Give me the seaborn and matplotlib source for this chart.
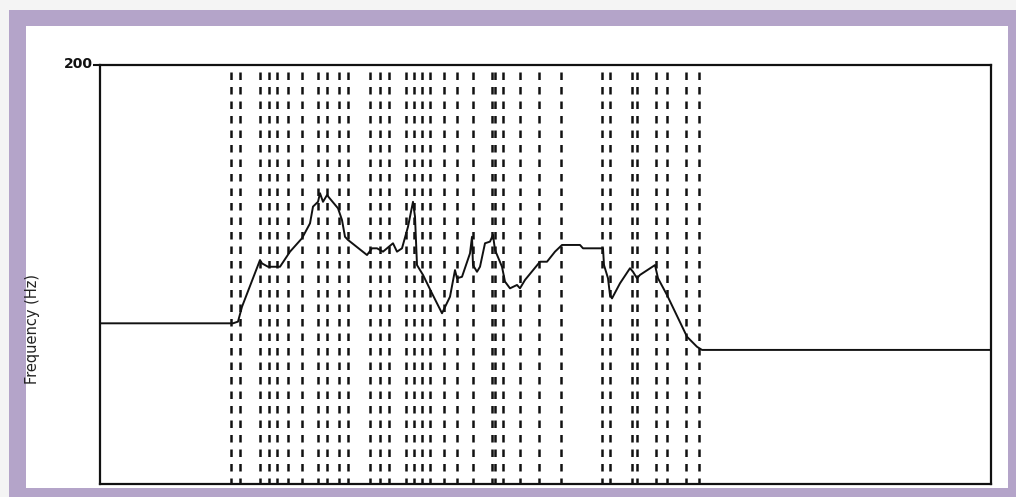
import matplotlib
matplotlib.use("Agg")
import matplotlib.pyplot as plt
import matplotlib.transforms as mtransforms
from matplotlib.patches import Rectangle
import seaborn as sns
import pandas as pd

# Pitch contour (time in s, frequency in Hz)
time_s = [0.00, 1.33, 1.38, 1.42, 1.60, 1.62, 1.68, 1.80, 1.90, 2.02, 2.10, 2.13,
          2.18, 2.20, 2.23, 2.27, 2.38, 2.42, 2.45, 2.48, 2.67, 2.72, 2.77, 2.83,
          2.93, 2.97, 3.02, 3.08, 3.13, 3.15, 3.17, 3.23, 3.32, 3.42, 3.50, 3.55,
          3.57, 3.62, 3.70, 3.72, 3.73, 3.77, 3.80, 3.85, 3.90, 3.93, 3.95, 4.02,
          4.05, 4.10, 4.17, 4.20, 4.25, 4.40, 4.47, 4.55, 4.62, 4.80, 4.83, 5.03,
          5.04, 5.08, 5.10, 5.12, 5.20, 5.30, 5.33, 5.37, 5.40, 5.55, 5.58, 5.67,
          5.87, 5.97, 6.02, 8.91]
freq_hz = [76.7, 76.7, 77.5, 84.6, 106.9, 105.3, 103.7, 103.7, 110.9, 117.3, 124.4, 132.4,
           134.7, 138.8, 134.7, 137.9, 131.6, 126.0, 118.0, 116.5, 109.3, 112.5, 112.5, 110.9,
           114.9, 110.9, 112.5, 122.8, 134.7, 127.6, 104.5, 99.8, 91.0, 81.5, 89.4, 102.1,
           98.2, 98.9, 110.1, 118.0, 104.5, 101.3, 103.7, 114.9, 115.7, 118.9, 111.7, 103.7,
           96.6, 93.4, 95.0, 93.4, 97.4, 106.1, 106.1, 110.9, 114.1, 114.1, 112.5, 112.5,
           104.5, 98.2, 90.2, 88.6, 95.8, 103.0, 101.3, 98.2, 99.8, 104.5, 98.2, 90.2,
           70.3, 65.5, 64.0, 64.0]

# Segment boundaries (s)
boundaries_s = [1.31, 1.40, 1.60, 1.69, 1.77, 1.88, 2.02, 2.18, 2.27, 2.39, 2.48, 2.70,
                2.80, 2.89, 3.06, 3.14, 3.22, 3.30, 3.44, 3.57, 3.73, 3.92, 3.95, 4.03,
                4.20, 4.39, 4.61, 5.02, 5.10, 5.32, 5.37, 5.56, 5.67, 5.86, 5.99]

y_ticks = [200]

sns.set_theme(style="white")
plt.rcParams['font.family'] = ['DejaVu Sans']

W, H = 1016, 497
fig = plt.figure(figsize=(W / 100, H / 100), dpi=100)
fig.patch.set_facecolor("#f4f4f4")

# purple frame and white interior (figure pixel coords, origin bottom-left)
r1 = Rectangle((9, 0), W - 9, H - 10, transform=None,
               facecolor="#b4a4c9", edgecolor="none", zorder=-10)
r2 = Rectangle((26, 9), 1008 - 26, 471 - 9, transform=None,
               facecolor="white", edgecolor="none", zorder=-9)
fig.add_artist(r1)
fig.add_artist(r2)

ax = fig.add_axes([100 / W, (H - 484) / H, 891 / W, 419 / H])
ax.set_zorder(5)
ax.set_facecolor("white")

df = pd.DataFrame({"t": time_s, "f": freq_hz})

ax.vlines(boundaries_s, ymin=200, ymax=0, colors="#111111", linewidth=1.8,
          linestyles=[(3.0, (3.0, 2.8))], zorder=1)

sns.lineplot(data=df, x="t", y="f", ax=ax, color="#111111", linewidth=1.4,
             estimator=None, sort=False, zorder=3)

ax.set_xlim(0, 8.91)
ax.set_ylim(0, 200)
ax.set_xticks([])
ax.set_yticks(y_ticks)
ax.set_yticklabels([str(v) for v in y_ticks], fontsize=10, fontweight="bold", color="#111111")
ax.tick_params(axis="y", left=True, length=5, width=1.5, color="#111111", pad=0)
shift = mtransforms.ScaledTranslation(0, 3 / 100, fig.dpi_scale_trans)
for lab in ax.get_yticklabels():
    lab.set_transform(lab.get_transform() + shift)
ax.set_xlabel("")
ax.set_ylabel("Frequency (Hz)", fontsize=10.5, color="#222222")
ax.yaxis.set_label_coords(-0.067, 0.37)

for s in ax.spines.values():
    s.set_visible(True)
    s.set_color("#111111")
    s.set_linewidth(1.6)

fig.savefig("out.png", dpi=100, facecolor=fig.get_facecolor())
